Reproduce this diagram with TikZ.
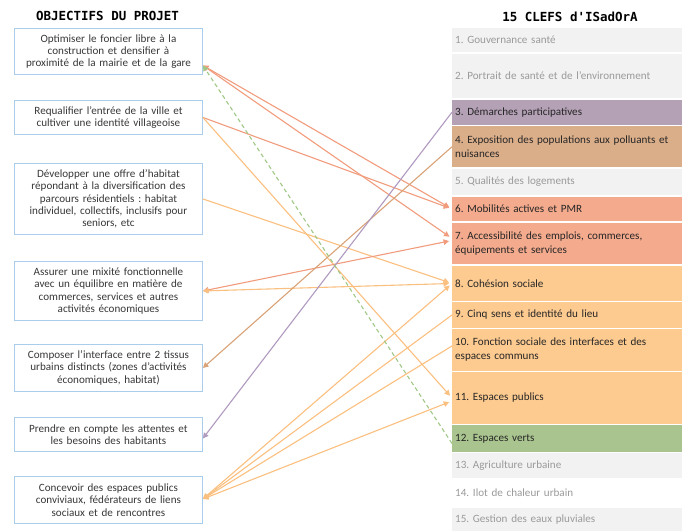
\documentclass[tikz,border=0pt]{standalone}
\usepackage{fontspec}
\setmainfont{Carlito}
\newfontfamily\titlefont{DejaVu Sans Mono}
\usetikzlibrary{arrows.meta}
\definecolor{boxblue}{HTML}{A9CDEB}
\definecolor{objtext}{HTML}{383838}
\definecolor{keygray}{HTML}{F2F2F2}
\definecolor{keygraytext}{HTML}{9A9A9A}
\definecolor{keytext}{HTML}{262626}
\definecolor{kpurple}{HTML}{B5A1B6}
\definecolor{ktan}{HTML}{DBAE8A}
\definecolor{ksalmon}{HTML}{F4AA8D}
\definecolor{korange}{HTML}{FDCA8F}
\definecolor{kgreen}{HTML}{A9C48E}
\definecolor{lsalmon}{HTML}{F29C7E}
\definecolor{lorange}{HTML}{FBC080}
\definecolor{lpurple}{HTML}{B09ABF}
\definecolor{ltan}{HTML}{D9A378}
\definecolor{lgreen}{HTML}{9FC886}
\begin{document}
\frenchspacing
\begin{tikzpicture}[x=1pt,y=-1pt,
  obj/.style={draw=boxblue, line width=0.9pt, anchor=north west, text width=180pt,
    inner xsep=4pt, inner ysep=2pt, align=center, text=objtext,
    font=\fontsize{11.1}{12.3}\selectfont},
  key/.style={anchor=north west, text width=224pt, inner xsep=3pt, inner ysep=0pt,
    align=left, font=\fontsize{11.1}{14}\selectfont},
  grey/.style={key, fill=keygray, text=keygraytext},
  ttl/.style={font=\titlefont\bfseries\fontsize{12.5}{14}\selectfont, text=black},
  conn/.style={line width=1.1pt},
  tor/.style={conn, -{Triangle[length=5.5pt,width=5.5pt]}, shorten >=3pt},
  tol/.style={conn, -{Triangle[length=5.5pt,width=5.5pt]}},
  both/.style={conn, {Triangle[length=5.5pt,width=5.5pt]}-{Triangle[length=5.5pt,width=5.5pt]}, shorten >=3pt}
]
\useasboundingbox (0,0) rectangle (682,531);
\fill[white] (0,0) rectangle (682,531);

% titles
\node[ttl] (t1) at (107.5,16) {OBJECTIFS DU PROJET};
\node[ttl] (t2) at (570,17) {15 CLEFS d'ISadOrA};

% objectives
\node[obj, minimum height=46pt] (b1) at (14,28) {Optimiser le foncier libre à la\\construction et densifier à\\proximité de la mairie et de la gare};
\node[obj, minimum height=34pt] (b2) at (14,100) {Requalifier l’entrée de la ville et\\cultiver une identité villageoise};
\node[obj, minimum height=71pt] (b3) at (14,163) {Développer une offre d’habitat\\répondant à la diversification des\\parcours résidentiels : habitat\\individuel, collectifs, inclusifs pour\\seniors, etc};
\node[obj, minimum height=59pt] (b4) at (14,261) {Assurer une mixité fonctionnelle\\avec un équilibre en matière de\\commerces, services et autres\\activités économiques};
\node[obj, minimum height=47pt] (b5) at (14,344) {Composer l’interface entre 2 tissus\\urbains distincts (zones d’activités\\économiques, habitat)};
\node[obj, minimum height=34pt] (b6) at (14,417) {Prendre en compte les attentes et\\les besoins des habitants};
\node[obj, minimum height=47pt] (b7) at (14,476) {Concevoir des espaces publics\\conviviaux, fédérateurs de liens\\sociaux et de rencontres};

% keys
\node[grey, minimum height=24pt] (r1) at (452,28) {1. Gouvernance santé};
\node[grey, minimum height=44.5pt] (r2) at (452,53.5) {2. Portrait de santé et de l’environnement};
\node[key, fill=kpurple, text=keytext, minimum height=25pt] (r3) at (452,99.5) {3. Démarches participatives};
\node[key, fill=ktan, text=keytext, minimum height=41pt] (r4) at (452,126) {4. Exposition des populations aux polluants et\\nuisances};
\node[grey, minimum height=26.5pt] (r5) at (452,168.5) {5. Qualités des logements};
\node[key, fill=ksalmon, text=keytext, minimum height=24.5pt] (r6) at (452,196.5) {6. Mobilités actives et PMR};
\node[key, fill=ksalmon, text=keytext, minimum height=41.5pt] (r7) at (452,222.5) {7. Accessibilité des emplois, commerces,\\équipements et services};
\node[key, fill=korange, text=keytext, minimum height=34.5pt] (r8) at (452,266) {8. Cohésion sociale};
\node[key, fill=korange, text=keytext, minimum height=25.5pt] (r9) at (452,302) {9. Cinq sens et identité du lieu};
\node[key, fill=korange, text=keytext, minimum height=41.5pt] (r10) at (452,329) {10. Fonction sociale des interfaces et des\\espaces communs};
\node[key, fill=korange, text=keytext, minimum height=51.5pt] (r11) at (452,372) {11. Espaces publics};
\node[key, fill=kgreen, text=keytext, minimum height=27.5pt] (r12) at (452,424.5) {12. Espaces verts};
\node[grey, minimum height=25.5pt] (r13) at (452,452.5) {13. Agriculture urbaine};
\node[key, text=keygraytext, minimum height=29pt] (r14) at (452,478) {14. Ilot de chaleur urbain};
\node[grey, minimum height=23.5pt] (r15) at (452,507.5) {15. Gestion des eaux pluviales};

% connectors
\draw[both, lsalmon] ([yshift=-14pt]b1.east) -- (r6.west);
\draw[both, lsalmon] ([yshift=-14pt]b1.east) -- ([yshift=5pt]r7.west);
\draw[tor, lsalmon] (b2.east) -- (r6.west);
\draw[tor, lorange] (b2.east) -- (r11.west);
\draw[tor, lorange] (b3.east) -- (r8.west);
\draw[both, lsalmon] (b4.east) -- ([yshift=3pt]r7.west);
\draw[both, lorange] (b4.east) -- (r8.west);
\draw[tol, ltan] (r4.west) -- (b5.east);
\draw[tol, lpurple] (r3.west) -- ([yshift=-4pt]b6.east);
\draw[both, lorange] ([yshift=1pt]b7.east) -- (r8.west);
\draw[tol, lorange] (r9.west) -- ([yshift=1pt]b7.east);
\draw[tol, lorange] ([yshift=4pt]r10.west) -- ([yshift=1pt]b7.east);
\draw[both, lorange] ([yshift=1pt]b7.east) -- ([yshift=-3pt]r11.west);
\draw[tol, lgreen, dashed, dash pattern=on 4pt off 3pt] ([yshift=-5pt]r12.west) -- ([yshift=-14pt]b1.east);
\end{tikzpicture}
\end{document}
